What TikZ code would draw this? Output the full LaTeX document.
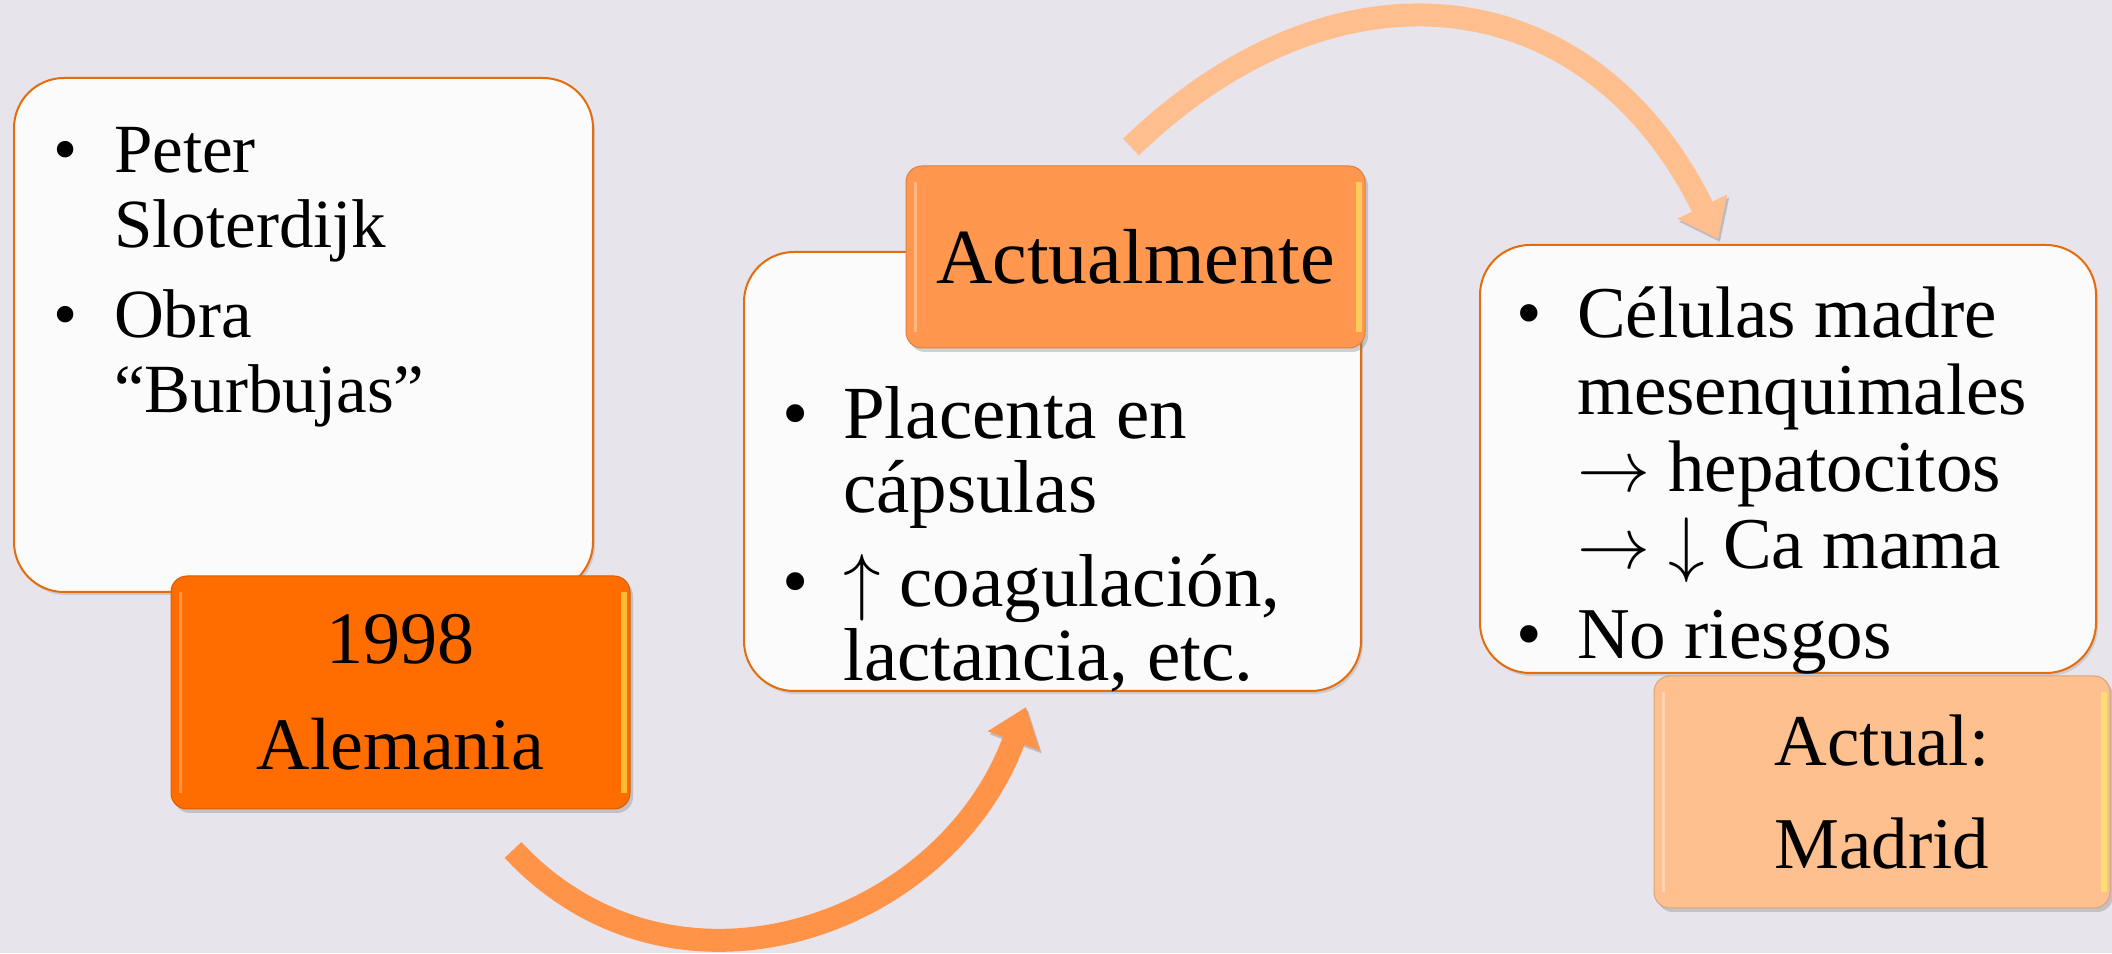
\RequirePackage{fix-cm}
\documentclass[tikz,border=0pt]{standalone}
\usepackage{fontspec}
\setmainfont{Liberation Serif}
\usetikzlibrary{arrows.meta}
\usetikzlibrary{shadows}
\definecolor{bgColor}{RGB}{232,228,235}
\definecolor{cardLine}{RGB}{228,108,10}
\definecolor{cardFill}{RGB}{251,251,251}
\definecolor{tabDark}{RGB}{255,108,0}
\definecolor{tabMid}{RGB}{255,152,78}
\definecolor{tabLight}{RGB}{255,192,143}
\definecolor{arrowMid}{RGB}{255,147,72}
\definecolor{arrowLight}{RGB}{255,190,142}
\newcommand\itm{\makebox[61pt][l]{\textbullet}}
\newcommand\cnt{\hspace*{61pt}}

\begin{document}
\begin{tikzpicture}[x=1pt,y=1pt,
  card/.style={draw=cardLine, line width=2pt, fill=cardFill, rounded corners=50pt, inner sep=0pt,
    drop shadow={shadow xshift=2pt, shadow yshift=-3pt, opacity=0.25}},
  tab/.style={draw=#1!85!black, line width=1pt, fill=#1, rounded corners=16pt, inner sep=0pt,
    minimum width=459pt, align=center,
    drop shadow={shadow xshift=3pt, shadow yshift=-4pt, opacity=0.35},
    path picture={\draw[line width=6pt, yellow!60!white, opacity=0.55]
      ([xshift=-6pt,yshift=-16pt]path picture bounding box.north east) --
      ([xshift=-6pt,yshift=16pt]path picture bounding box.south east);
      \draw[line width=3pt, white, opacity=0.3]
      ([xshift=9pt,yshift=-16pt]path picture bounding box.north west) --
      ([xshift=9pt,yshift=16pt]path picture bounding box.south west);}},
  bullets/.style={anchor=north west, inner sep=0pt, align=left},
  curvearrow/.style={line width=23pt, -{Triangle[length=36pt,width=53pt]},
    preaction={draw=black, opacity=0.18, transform canvas={xshift=2pt,yshift=-3pt}}}]
\useasboundingbox (0,0) rectangle (2112,953);
\fill [bgColor] (0,0) rectangle (2112,953);

% first card
\node [card, minimum width=579pt, minimum height=514pt] (sloter) at (303.5,618) {};
\node [bullets, font=\fontsize{69}{75}\selectfont] (sloterTxt) at ([xshift=40pt,yshift=-50pt]sloter.north west)
  {\itm Peter\\ \cnt Sloterdijk\\[15pt] \itm Obra\\ \cnt ``Burbujas''};
\node [tab=tabDark, minimum height=233pt, font=\fontsize{74}{106}\selectfont] (anio) at (400.5,260.5) {1998\\Alemania};

% second card
\node [card, minimum width=617pt, minimum height=439pt] (placenta) at (1052.5,481.5) {};
\node [bullets, font=\fontsize{75}{74}\selectfont] (placentaTxt) at ([xshift=39pt,yshift=-135pt]placenta.north west)
  {\itm Placenta en\\ \cnt cápsulas\\[20pt] \itm $\uparrow$ coagulación,\\ \cnt lactancia, etc.};
\node [tab=tabMid, minimum height=182pt, font=\fontsize{78}{80}\selectfont] (hoy) at (1135.5,696) {Actualmente};

% third card
\node [card, minimum width=616pt, minimum height=428pt] (celulas) at (1788,494) {};
\node [bullets, font=\fontsize{73}{77}\selectfont] (celulasTxt) at ([xshift=37pt,yshift=-43pt]celulas.north west)
  {\itm Células madre\\ \cnt mesenquimales\\ \cnt $\rightarrow$ hepatocitos\\ \cnt $\rightarrow$ $\downarrow$ Ca mama\\[13pt] \itm No riesgos};
\node [tab=tabLight, minimum width=456pt, minimum height=232pt, font=\fontsize{73}{103}\selectfont] (madrid) at (1882,161) {Actual:\\Madrid};

% curved arrows
\coordinate (lowTail) at (513,103);
\coordinate (lowTip) at (1026,246);
\draw [curvearrow, arrowMid] (lowTail) to[out=-47, in=-110, looseness=1.13] (lowTip);
\coordinate (highTail) at (1131,806);
\coordinate (highTip) at (1718,714);
\draw [curvearrow, arrowLight] (highTail) to[out=44, in=116, looseness=1.24] (highTip);
\end{tikzpicture}
\end{document}
